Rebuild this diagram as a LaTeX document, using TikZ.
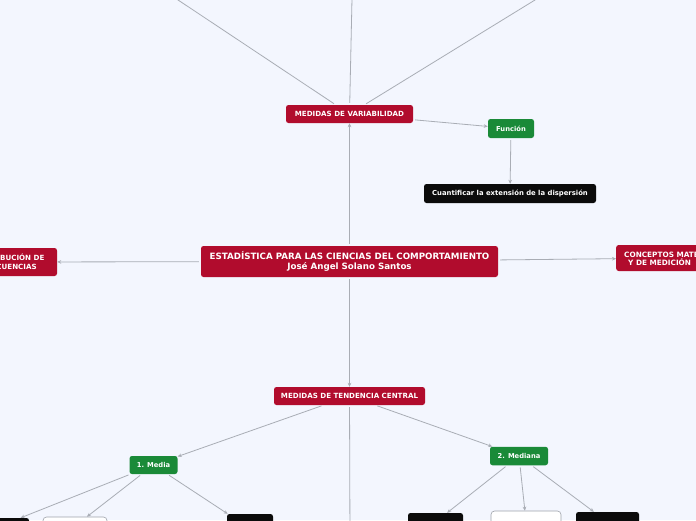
\documentclass[tikz,border=0pt]{standalone}
\usepackage{fontspec}
\setmainfont{DejaVu Sans}
\usetikzlibrary{arrows.meta}
\definecolor{bg}{HTML}{F3F6FE}
\definecolor{rednode}{HTML}{B10C2D}
\definecolor{greennode}{HTML}{1A8A38}
\definecolor{blacknode}{HTML}{0B0B0B}
\definecolor{linegray}{HTML}{A9ADB5}
\definecolor{bordergray}{HTML}{9EA2AA}
\begin{document}
\begin{tikzpicture}[x=1pt,y=-1pt,
  box/.style={rounded corners=2.5pt, inner sep=0pt, text=white, font=\bfseries\fontsize{7.1}{8.5}\selectfont, align=center},
  redbox/.style={box, fill=rednode},
  greenbox/.style={box, fill=greennode, font=\bfseries\fontsize{6.75}{8}\selectfont},
  blackbox/.style={box, fill=blacknode, font=\bfseries\fontsize{6.85}{8}\selectfont},
  whitebox/.style={box, fill=white, draw=bordergray, line width=0.6pt, rounded corners=3.5pt},
  conn/.style={draw=linegray, line width=0.8pt, -{Stealth[length=4pt,width=3.6pt]}, shorten <=2pt},
]
\useasboundingbox (0,0) rectangle (696,520);
\fill[bg] (0,0) rectangle (696,520);
\clip (0,0) rectangle (696,520);

% nodes
\node[redbox, font=\bfseries\fontsize{8.7}{10.7}\selectfont, minimum width=297pt, minimum height=31pt] (main) at (349.5,261.5) {ESTADÍSTICA PARA LAS CIENCIAS DEL COMPORTAMIENTO\\José Angel Solano Santos};
\node[redbox, minimum width=127pt, minimum height=18pt] (mv) at (349.5,114) {MEDIDAS DE VARIABILIDAD};
\node[greenbox, minimum width=46pt, minimum height=19pt] (fun) at (511,128.5) {Función};
\node[blackbox, minimum width=172pt, minimum height=19pt] (cuant) at (510,193.5) {Cuantificar la extensión de la dispersión};
\node[redbox, minimum width=96pt, minimum height=28pt] (left) at (9,262) {DISTRIBUCIÓN DE\\FRECUENCIAS};
\node[redbox, font=\bfseries\fontsize{7.3}{8.5}\selectfont, anchor=west, align=left, inner xsep=8pt, minimum height=26pt] (right) at (616,258) {CONCEPTOS MATEMÁTICOS\\\hspace*{4pt}Y DE MEDICIÓN};
\node[redbox, minimum width=151pt, minimum height=18pt] (mtc) at (349.5,396) {MEDIDAS DE TENDENCIA CENTRAL};
\node[greenbox, minimum width=48pt, minimum height=18pt] (media) at (153.5,465) {1. Media};
\node[greenbox, minimum width=58pt, minimum height=18.5pt] (mediana) at (519,456) {2. Mediana};

\node[blackbox, minimum width=78pt, minimum height=24pt] (bl1) at (-10,530) {};
\node[whitebox, minimum width=64pt, minimum height=18pt] (bl2) at (75,526) {};
\node[blackbox, minimum width=46pt, minimum height=29pt] (bl3) at (250,528.5) {};
\node[blackbox, minimum width=55pt, minimum height=18pt] (br1) at (435.5,522) {};
\node[whitebox, minimum width=70pt, minimum height=20pt] (br2) at (526,521) {};
\node[blackbox, minimum width=63pt, minimum height=20pt] (br3) at (607.5,522) {};

\coordinate (tl) at (148,-20);
\coordinate (tm) at (352.4,-20);
\coordinate (tr) at (567.5,-20);
\coordinate (mtcdown) at (350,545);

% connectors
\draw[conn] (main) -- (mv);
\draw[conn] (main) -- (left);
\draw[conn] (main) -- (right);
\draw[conn] (main) -- (mtc);
\draw[conn] (mv) -- (fun);
\draw[conn] (fun) -- (cuant);
\draw[conn] (mv) -- (tl);
\draw[conn] (mv) -- (tm);
\draw[conn] (mv) -- (tr);
\draw[conn] (mtc) -- (media);
\draw[conn] (mtc) -- (mediana);
\draw[conn] (mtc) -- (mtcdown);
\draw[conn] (media) -- (bl1);
\draw[conn] (media) -- (bl2);
\draw[conn] (media) -- (bl3);
\draw[conn] (mediana) -- (br1);
\draw[conn] (mediana) -- (br2);
\draw[conn] (mediana) -- (br3);
\end{tikzpicture}
\end{document}
